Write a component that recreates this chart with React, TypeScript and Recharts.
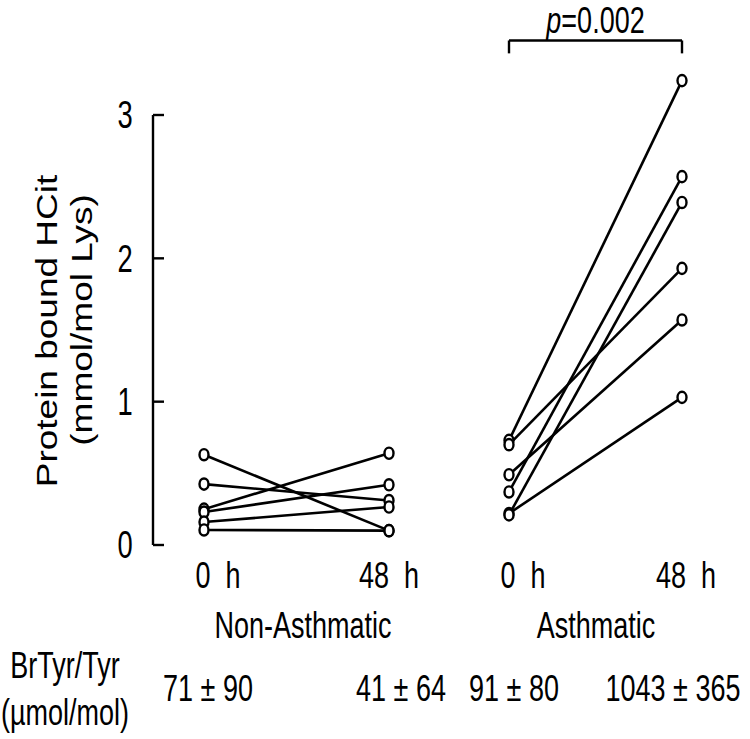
import { LineChart, Line, XAxis, YAxis, ReferenceLine } from 'recharts';

// x slots along the category axis (0 h / 48 h for each group)
const timeLabels = ['0 h', '48 h', '0 h', '48 h'];
const timeSlots = [5.1, 23.6, 35.6, 52.9];
const groupLabels = ['Non-Asthmatic', 'Asthmatic'];
const groupSlots = [15, 44.3];
const yTicks = [0, 1, 2, 3];

// protein bound HCit, one entry per subject
const nonAsthmatic0h = [0.63, 0.425, 0.25, 0.23, 0.16, 0.105];
const nonAsthmatic48h = [0.1, 0.31, 0.64, 0.42, 0.265, 0.1];
const asthmatic0h = [0.73, 0.7, 0.49, 0.37, 0.22, 0.21];
const asthmatic48h = [3.24, 1.93, 1.57, 2.57, 1.03, 2.39];

const brTyrValues = ['71 \u00b1 90', '41 \u00b1 64', '91 \u00b1 80', '1043 \u00b1 365'];
const pValue = '=0.002';

const SANS = "'Liberation Sans', Arial, sans-serif";
const INK = '#000';
const SQUEEZE = 0.72;

const subjects = [
  ...nonAsthmatic0h.map((v, i) => [
    { x: timeSlots[0], y: v },
    { x: timeSlots[1], y: nonAsthmatic48h[i] },
  ]),
  ...asthmatic0h.map((v, i) => [
    { x: timeSlots[2], y: v },
    { x: timeSlots[3], y: asthmatic48h[i] },
  ]),
];

// the figure's lettering is a squeezed Arial, so scale it on x
const NText = ({ x, y, size = 37.5, children }: any) => (
  <text
    transform={`translate(${x} ${y}) scale(${SQUEEZE} 1)`}
    textAnchor="middle"
    dominantBaseline="central"
    fontFamily={SANS}
    fontSize={size}
    fill={INK}
    style={{ whiteSpace: 'pre' }}
  >
    {children}
  </text>
);

const OpenDot = (p: any) => (
  <ellipse key={`${p.cx}-${p.cy}-${p.index}`} cx={p.cx} cy={p.cy} rx={4.5} ry={5.6} fill="#fff" stroke={INK} strokeWidth={2.4} />
);

const timeShift = [14, 0, 14, 4];
const TimeTick = ({ x, y, index }: any) => (
  <NText x={x + timeShift[index]} y={y + 30}>{timeLabels[index].replace(' ', '  ')}</NText>
);

const GroupTick = ({ x, y, index }: any) => (
  <NText x={x} y={y + 30}>{groupLabels[index]}</NText>
);

const tableShift = [4, 12, 5, -9];
const TableTick = ({ x, y, index }: any) => (
  <NText x={x + tableShift[index]} y={y + 43}>{brTyrValues[index]}</NText>
);

const TableTitle = ({ viewBox }: any) => (
  <g>
    <NText x={viewBox.x - 88} y={viewBox.y + 20}>BrTyr/Tyr</NText>
    <NText x={viewBox.x - 88} y={viewBox.y + 67}>({'\u00b5'}mol/mol)</NText>
  </g>
);

const YTick = ({ x, y, payload }: any) => (
  <g>
    <line x1={x} x2={x + 11} y1={y} y2={y} stroke={INK} strokeWidth={2.4} />
    <NText x={x - 28} y={y} size={38}>{payload.value}</NText>
  </g>
);

const YTitle = ({ viewBox }: any) => {
  const cy = 330;
  const line = (text: string, cx: number, dy: number) => (
    <text
      transform={`translate(${cx} ${cy + dy}) rotate(-90) scale(1 0.78)`}
      textAnchor="middle"
      dominantBaseline="central"
      fontFamily={SANS}
      fontSize={37}
      fill={INK}
    >
      {text}
    </text>
  );
  return (
    <g>
      {line('Protein bound HCit', viewBox.x + 47, 1)}
      {line('(mmol/mol Lys)', viewBox.x + 82, -10)}
    </g>
  );
};

const PLabel = ({ viewBox }: any) => (
  <text
    transform={`translate(${viewBox.x + viewBox.width / 2} ${viewBox.y - 21}) scale(${SQUEEZE} 1)`}
    textAnchor="middle"
    dominantBaseline="central"
    fontFamily={SANS}
    fontSize={37.5}
    fill={INK}
  >
    <tspan fontStyle="italic">p</tspan>
    {pValue}
  </text>
);

const BRACKET_TOP = 3.52;
const BRACKET_FOOT = 3.43;
const Y_MAX = 3.6;

export default function App() {
  return (
    <div style={{ position: 'absolute', left: 0, top: 0, width: 750, height: 739, background: '#fff' }}>
      <LineChart width={750} height={739} margin={{ top: 29, right: 17, bottom: 0, left: 0 }}>
        <XAxis xAxisId="a1" type="number" dataKey="x" domain={[0, 58]} ticks={timeSlots} interval={0} height={50}
          axisLine={false} tickLine={false} tickSize={0} tickMargin={0} tick={<TimeTick />} allowDataOverflow />
        <XAxis xAxisId="a2" type="number" dataKey="x" domain={[0, 58]} ticks={groupSlots} interval={0} height={50}
          axisLine={false} tickLine={false} tickSize={0} tickMargin={0} tick={<GroupTick />} allowDataOverflow />
        <XAxis xAxisId="a3" type="number" dataKey="x" domain={[0, 58]} ticks={timeSlots} interval={0} height={94}
          axisLine={false} tickLine={false} tickSize={0} tickMargin={0} tick={<TableTick />} label={<TableTitle />} allowDataOverflow />
        <YAxis type="number" domain={[0, Y_MAX]} ticks={yTicks} interval={0} width={153}
          axisLine={false} tickLine={false} tickSize={0} tickMargin={0}
          tick={<YTick />} label={<YTitle />} />

        {/* y axis spine only runs 0..3 */}
        <ReferenceLine xAxisId="a1" stroke={INK} strokeWidth={2.4}
          segment={[{ x: 0, y: 0 }, { x: 0, y: yTicks[yTicks.length - 1] }]} />

        <ReferenceLine xAxisId="a1" stroke={INK} strokeWidth={2.4}
          segment={[{ x: timeSlots[2], y: BRACKET_TOP }, { x: timeSlots[3], y: BRACKET_TOP }]} label={<PLabel />} />
        <ReferenceLine xAxisId="a1" stroke={INK} strokeWidth={2.4}
          segment={[{ x: timeSlots[2], y: BRACKET_TOP }, { x: timeSlots[2], y: BRACKET_FOOT }]} />
        <ReferenceLine xAxisId="a1" stroke={INK} strokeWidth={2.4}
          segment={[{ x: timeSlots[3], y: BRACKET_TOP }, { x: timeSlots[3], y: BRACKET_FOOT }]} />

        {subjects.map((seg, i) => (
          <Line key={i} xAxisId="a1" data={seg} dataKey="y" type="linear" stroke={INK} strokeWidth={2.6}
            dot={OpenDot} activeDot={false} isAnimationActive={false} />
        ))}
      </LineChart>
    </div>
  );
}
